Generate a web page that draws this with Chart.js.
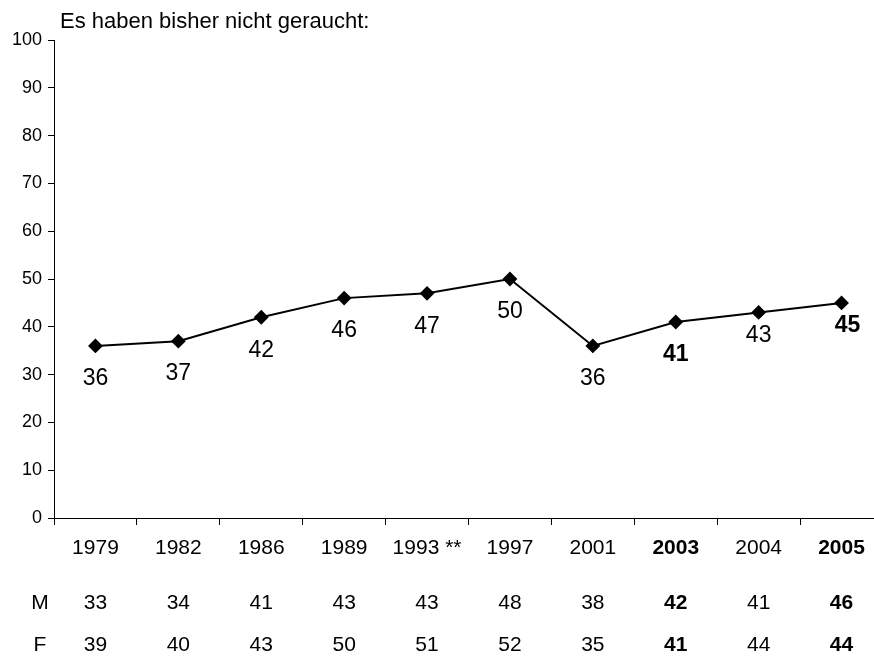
<!DOCTYPE html>
<html>
<head>
<meta charset="utf-8">
<script src="https://cdn.jsdelivr.net/npm/chart.js@4.4.1/dist/chart.umd.min.js"></script>
<style>
  html, body { margin: 0; padding: 0; background: #fff; overflow: hidden; }
  #wrap { position: relative; width: 891px; height: 657px; }
</style>
</head>
<body>
<div id="wrap"><canvas id="smokeChart"></canvas></div>
<script>
const years = ["1979", "1982", "1986", "1989", "1993 **", "1997", "2001", "2003", "2004", "2005"];
const total = [36, 37, 42, 46, 47, 50, 36, 41, 43, 45];
const men = [33, 34, 41, 43, 43, 48, 38, 42, 41, 46];
const women = [39, 40, 43, 50, 51, 52, 35, 41, 44, 44];
const boldYears = ["2003", "2005"];
const yTicks = [0, 10, 20, 30, 40, 50, 60, 70, 80, 90, 100];

const FONT = "'Liberation Sans', Arial, sans-serif";
const isBold = (i) => boldYears.includes(years[i]);

// value labels under each point, plus the M / F rows below the axis
const textPlugin = {
    id: "textPlugin",
    afterDatasetsDraw(chart) {
        const ctx = chart.ctx;
        const x = chart.scales.x;
        const meta = chart.getDatasetMeta(0);
        ctx.save();
        ctx.fillStyle = "#000";
        ctx.textAlign = "center";
        ctx.textBaseline = "middle";
        meta.data.forEach((pt, i) => {
            const dy = i >= 8 ? 23 : 33;
            const dx = i === 9 ? 6 : 0;
            ctx.font = (isBold(i) ? "bold " : "") + "23px " + FONT;
            ctx.fillText(String(total[i]), pt.x + dx, pt.y + dy);
        });
        const rows = [["M", men, 603], ["F", women, 645]];
        rows.forEach(([name, vals, y]) => {
            ctx.font = "21px " + FONT;
            ctx.fillText(name, 40, y);
            vals.forEach((v, i) => {
                ctx.font = (isBold(i) ? "bold " : "") + "21px " + FONT;
                ctx.fillText(String(v), x.getPixelForValue(i), y);
            });
        });
        ctx.font = "22px " + FONT;
        ctx.textAlign = "left";
        ctx.fillText("Es haben bisher nicht geraucht:", 60, 22);
        ctx.restore();
    },
};

new Chart(document.getElementById("smokeChart"), {
    type: "line",
    data: {
        labels: years,
        datasets: [
            {
                data: total,
                borderColor: "#000",
                borderWidth: 2,
                backgroundColor: "#000",
                pointStyle: "rectRot",
                pointRadius: 6,
                pointHoverRadius: 6,
                tension: 0,
            },
        ],
    },
    options: {
        responsive: true,
        maintainAspectRatio: false,
        animation: false,
        layout: { padding: { top: 40, right: 3, bottom: 0, left: 0 } },
        plugins: {
            legend: { display: false },
            tooltip: { enabled: false },
        },
        scales: {
            x: {
                offset: true,
                grid: {
                    offset: true,
                    drawOnChartArea: false,
                    drawTicks: true,
                    tickLength: 7,
                    color: "#000",
                },
                border: { display: true, color: "#000", width: 1 },
                ticks: {
                    color: "#000",
                    padding: 11,
                    maxRotation: 0,
                    autoSkip: false,
                    font: (c) => ({
                        family: FONT,
                        size: 21,
                        weight: isBold(c.index) ? "bold" : "normal",
                    }),
                },
                afterFit(scale) { scale.height = 139; },
            },
            y: {
                min: 0,
                max: 100,
                afterBuildTicks(scale) { scale.ticks = yTicks.map((v) => ({ value: v })); },
                grid: {
                    drawOnChartArea: false,
                    drawTicks: true,
                    tickLength: 6,
                    color: "#000",
                },
                border: { display: true, color: "#000", width: 1 },
                ticks: {
                    color: "#000",
                    padding: 6,
                    font: { family: FONT, size: 18 },
                },
                afterFit(scale) { scale.width = 54; },
            },
        },
    },
    plugins: [textPlugin],
});
</script>
</body>
</html>
